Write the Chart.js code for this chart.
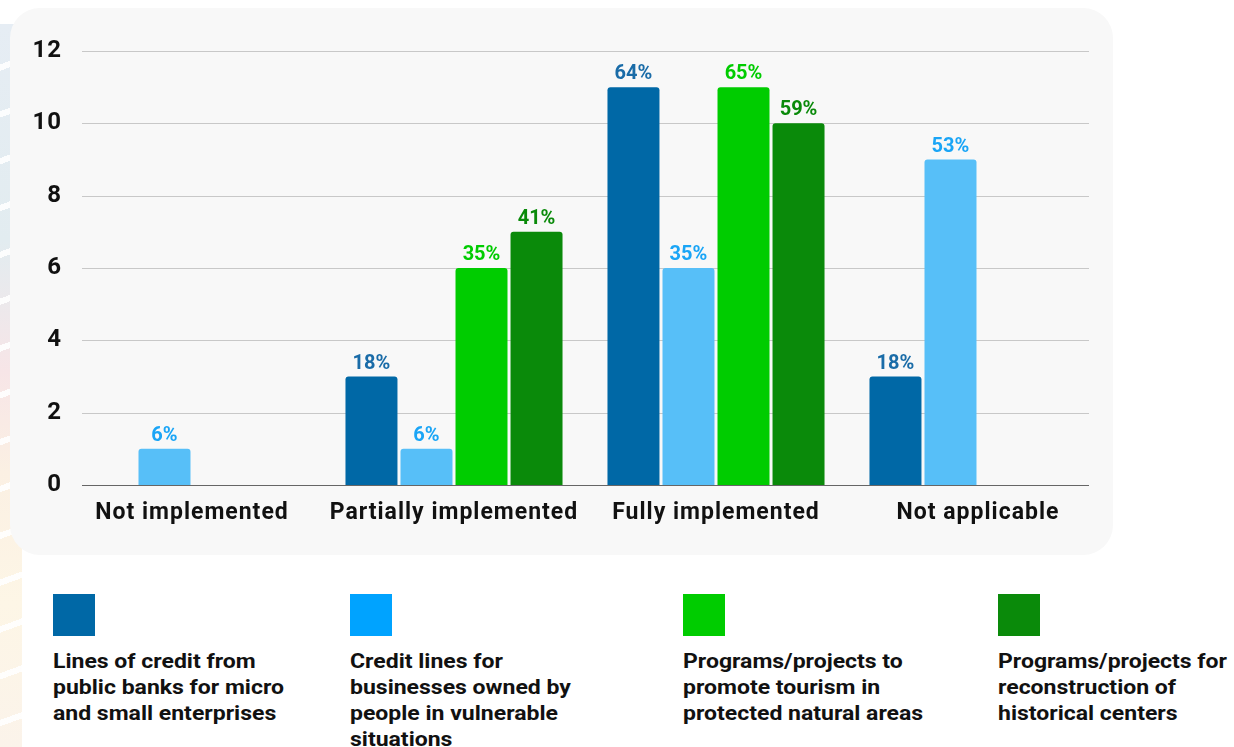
<!DOCTYPE html>
<html>
<head>
<meta charset="utf-8">
<script src="https://cdn.jsdelivr.net/npm/chart.js@4.4.1/dist/chart.umd.min.js"></script>
<style>
  html, body { margin: 0; padding: 0; background: #fff; }
  body { width: 1234px; height: 747px; position: relative; overflow: hidden; font-family: Roboto, sans-serif; }
  .deco {
    position: absolute; left: 0; top: 24px; width: 22px; height: 723px;
    background:
      repeating-linear-gradient(160deg, rgba(255,255,255,0) 0 38px, rgba(255,255,255,0.9) 38px 44px),
      linear-gradient(180deg, #e6edf4 0%, #e2ecf0 30%, #f7e5e7 48%, #fbf0e3 62%, #fdf6e6 80%, #fbf3ea 100%);
  }
  .panel {
    position: absolute; left: 10px; top: 8px; width: 1103px; height: 547px;
    background: #f8f8f8; border-radius: 30px;
  }
  #chart { position: absolute; left: 0; top: 0; }
  .legend { position: absolute; top: 594px; left: 0; width: 1234px; }
  .item { position: absolute; top: 0; }
  .swatch { width: 42px; height: 42px; }
  .text {
    margin-top: 12px; font-size: 20px; font-weight: 700; line-height: 26px;
    color: #111; white-space: nowrap;
    transform: scaleX(1.15); transform-origin: left top;
  }
</style>
</head>
<body>
<div class="deco"></div>
<div class="panel"></div>
<canvas id="chart" width="1234" height="560"></canvas>
<div class="legend" id="legend"></div>
<script>
  const categories = ["Not implemented", "Partially implemented", "Fully implemented", "Not applicable"];

  const seriesNames = [
    ["Lines of credit from", "public banks for micro", "and small enterprises"],
    ["Credit lines for", "businesses owned by", "people in vulnerable", "situations"],
    ["Programs/projects to", "promote tourism in", "protected natural areas"],
    ["Programs/projects for", "reconstruction of", "historical centers"]
  ];

  // counts per status
  const creditPublicBanks = [0, 3, 11, 3];
  const creditVulnerable = [1, 1, 6, 9];
  const tourismProtected = [0, 6, 11, 0];
  const historicalCenters = [0, 7, 10, 0];

  // share of respondents, shown over each bar
  const pctPublicBanks = [null, 18, 64, 18];
  const pctVulnerable = [6, 6, 35, 53];
  const pctTourism = [null, 35, 65, null];
  const pctHistorical = [null, 41, 59, null];

  const yTicks = [0, 2, 4, 6, 8, 10, 12];

  const barColors = ["#0068a6", "#57bff8", "#00cc00", "#0a8a0a"];
  const labelColors = ["#1a6ca8", "#1aa5f6", "#00cc00", "#0a8a0a"];
  const swatchColors = ["#0068a6", "#00a3ff", "#00cc00", "#0a8a0a"];
  const legendX = [53, 350, 683, 998];

  const values = [creditPublicBanks, creditVulnerable, tourismProtected, historicalCenters];
  const pcts = [pctPublicBanks, pctVulnerable, pctTourism, pctHistorical];

  // axis labels are set a little wider than plain Roboto
  const wideText = {
    id: "wideText",
    beforeDraw(chart) { chart.ctx.letterSpacing = "1px"; }
  };

  // horizontal guide lines, drawn shorter than the category area
  const gridLines = {
    id: "gridLines",
    beforeDatasetsDraw(chart) {
      const { ctx, scales: { y } } = chart;
      const x0 = 82, x1 = 1089;
      ctx.save();
      yTicks.forEach(v => {
        const py = Math.round(y.getPixelForValue(v)) + 0.5;
        ctx.beginPath();
        ctx.strokeStyle = v === 0 ? "#666666" : "#c8c8c8";
        ctx.lineWidth = 1.2;
        ctx.moveTo(x0, py);
        ctx.lineTo(x1, py);
        ctx.stroke();
      });
      ctx.restore();
    }
  };

  const pctLabels = {
    id: "pctLabels",
    afterDatasetsDraw(chart) {
      const { ctx } = chart;
      ctx.save();
      ctx.letterSpacing = "0px";
      ctx.font = "bold 20px Roboto";
      ctx.textAlign = "center";
      ctx.textBaseline = "alphabetic";
      chart.data.datasets.forEach((ds, di) => {
        const meta = chart.getDatasetMeta(di);
        meta.data.forEach((bar, i) => {
          const p = pcts[di][i];
          if (p == null) return;
          ctx.fillStyle = labelColors[di];
          ctx.fillText(p + "%", bar.x, bar.y - 8);
        });
      });
      ctx.restore();
    }
  };

  new Chart(document.getElementById("chart"), {
    type: "bar",
    data: {
      labels: categories,
      datasets: values.map((v, i) => ({
        label: seriesNames[i].join(" "),
        data: v,
        backgroundColor: barColors[i],
        borderWidth: 0,
        borderRadius: 3,
        categoryPercentage: 0.84,
        barPercentage: 0.945
      }))
    },
    options: {
      responsive: false,
      animation: false,
      events: [],
      layout: { padding: { left: 0, right: 125, top: 51, bottom: 35 } },
      plugins: {
        legend: { display: false },
        tooltip: { enabled: false }
      },
      scales: {
        y: {
          min: 0,
          max: 12,
          afterFit: s => { s.width = 61; },
          afterBuildTicks: s => { s.ticks = yTicks.map(v => ({ value: v })); },
          grid: { display: false, drawTicks: false },
          border: { display: false },
          ticks: { padding: -1, color: "#111", font: { family: "Roboto", size: 24, weight: "bold" } }
        },
        x: {
          afterFit: s => { s.height = 40; },
          grid: { display: false, drawTicks: false },
          border: { display: false },
          ticks: {
            padding: 14, color: "#111", maxRotation: 0, autoSkip: false,
            font: { family: "Roboto", size: 23, weight: "bold" }
          }
        }
      }
    },
    plugins: [wideText, gridLines, pctLabels]
  });

  const legend = document.getElementById("legend");
  seriesNames.forEach((lines, i) => {
    const item = document.createElement("div");
    item.className = "item";
    item.style.left = legendX[i] + "px";
    item.innerHTML = `<div class="swatch" style="background:${swatchColors[i]}"></div>
      <div class="text">${lines.join("<br>")}</div>`;
    legend.appendChild(item);
  });
</script>
</body>
</html>
